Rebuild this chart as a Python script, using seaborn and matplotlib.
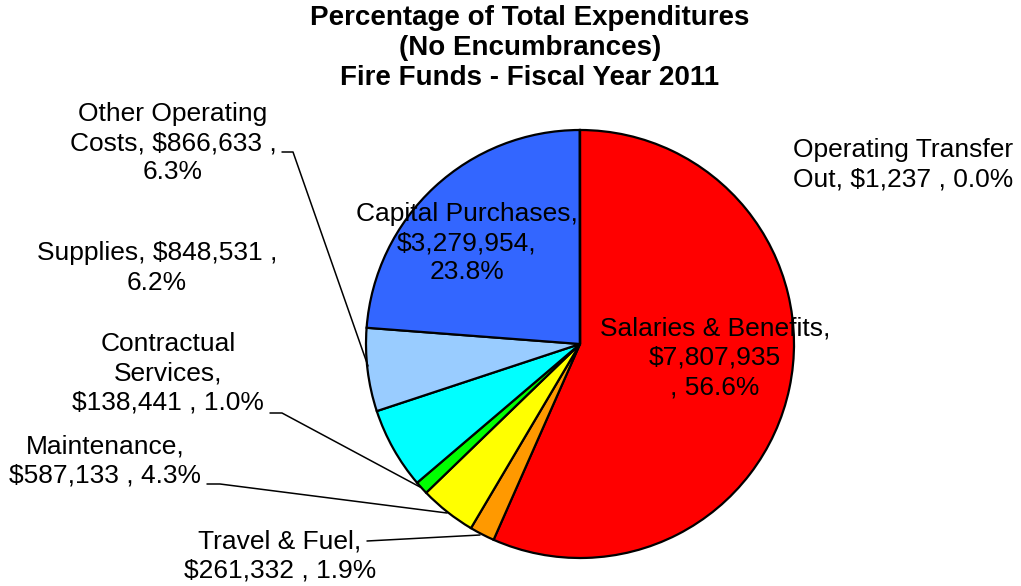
import numpy as np
import matplotlib
matplotlib.use("Agg")
import matplotlib.pyplot as plt
import seaborn as sns

categories = ["Salaries & Benefits", "Travel & Fuel", "Maintenance", "Contractual Services",
              "Supplies", "Other Operating Costs", "Capital Purchases", "Operating Transfer Out"]
amounts = [7807935, 261332, 587133, 138441, 848531, 866633, 3279954, 1237]
slice_colors = ["#FF0000", "#FF9900", "#FFFF00", "#00FF00", "#00FFFF", "#99CCFF", "#3366FF", "#993366"]

label_texts = [
    "Salaries & Benefits,\n$7,807,935\n, 56.6%",
    "Travel & Fuel,\n$261,332 , 1.9%",
    "Maintenance,\n$587,133 , 4.3%",
    "Contractual\nServices,\n$138,441 , 1.0%",
    "Supplies, $848,531 ,\n6.2%",
    "Other Operating\nCosts, $866,633 ,\n6.3%",
    "Capital Purchases,\n$3,279,954,\n23.8%",
    "Operating Transfer\nOut, $1,237 , 0.0%",
]

W, H = 1021, 586
# label centres in pixels (x, y from top)
label_pos = [(715, 358), (280, 556), (105, 461), (168, 373), (157, 268), (173, 143), (467, 243), (903, 165)]
# leader lines in pixels
leaders = {
    1: [(367, 541), (480, 535)],
    2: [(207, 484), (220, 484), (447, 513)],
    3: [(270, 413), (282, 413), (420, 487)],
    5: [(282, 152), (293, 152), (368, 366)],
}

sns.set_theme(style="white")
plt.rcParams["font.family"] = ["Liberation Sans", "DejaVu Sans"]

fig = plt.figure(figsize=(W / 100, H / 100), dpi=100)
ax = fig.add_axes([0, 0, 1, 1])

cx, cy, r = 580, 344, 214
ax.pie(amounts, colors=slice_colors, startangle=90, counterclock=False,
       center=(cx, H - cy), radius=r,
       wedgeprops=dict(edgecolor="black", linewidth=1.6))
ax.set_xlim(0, W)
ax.set_ylim(0, H)
ax.set_aspect("equal")
ax.axis("off")

for txt, (x, y) in zip(label_texts, label_pos):
    ax.text(x, H - y, txt, ha="center", va="center", fontsize=19,
            linespacing=1.28, color="black")

for pts in leaders.values():
    xs = [p[0] for p in pts]
    ys = [H - p[1] for p in pts]
    ax.plot(xs, ys, color="black", linewidth=1.1)

ax.text(530, H - 48, "Percentage of Total Expenditures\n(No Encumbrances)\nFire Funds - Fiscal Year 2011",
        ha="center", va="center", fontsize=20, fontweight="bold", linespacing=1.2, color="black")

fig.savefig("out.png", dpi=100)
